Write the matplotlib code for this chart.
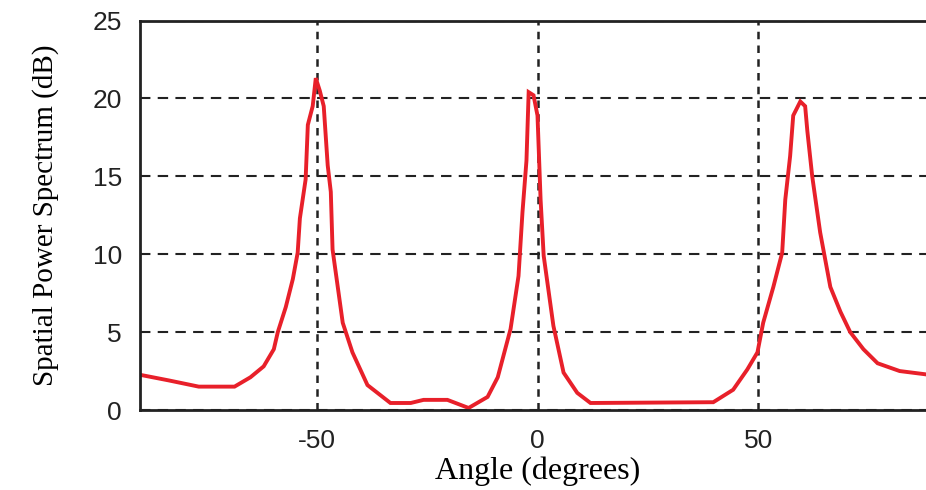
import numpy as np
import matplotlib
matplotlib.use("Agg")
import matplotlib.pyplot as plt

# spatial spectrum (angle in degrees, level in dB)
angle = [-90, -83.5, -76.7, -68.6, -65, -62, -59.7, -58.8, -57, -55.4, -54.3, -53.8,
         -52.5, -52.0, -50.9, -50.2, -49.3, -48.4, -47.5, -46.8, -46.4, -44.1, -41.9,
         -38.5, -33.3, -28.7, -25.8, -20.4, -15.6, -11.3, -9.0, -6.1, -4.3, -3.4, -2.5,
         -2.0, -0.9, 0, 0.7, 1.4, 3.6, 5.9, 9.0, 12, 39.8, 44.3, 47.5, 49.8, 51.1, 53.4,
         55.4, 56.1, 57.2, 57.9, 59.5, 60.6, 61.1, 62.2, 64.0, 66.3, 68.6, 70.8, 73.8,
         77, 82, 87.6, 90]
power_db = [2.26, 1.9, 1.5, 1.5, 2.1, 2.8, 3.9, 5.0, 6.6, 8.4, 10.1, 12.3,
            14.8, 18.3, 19.5, 21.3, 20.5, 19.5, 15.7, 14.0, 10.3, 5.6, 3.7,
            1.6, 0.45, 0.45, 0.65, 0.65, 0.13, 0.84, 2.1, 5.2, 8.6, 12.7, 16.0,
            20.4, 20.2, 18.9, 13.5, 9.9, 5.4, 2.4, 1.1, 0.45, 0.5, 1.3, 2.6, 3.7, 5.6, 7.9,
            10.1, 13.5, 16.3, 18.9, 19.8, 19.5, 17.9, 15.0, 11.4, 7.9, 6.3, 5.0, 3.9,
            3.0, 2.5, 2.3, 2.2]

xticks = [-50, 0, 50]
yticks = [0, 5, 10, 15, 20, 25]

fig = plt.figure(figsize=(9.26, 4.9), dpi=100)
ax = fig.add_axes([140/926, 1 - 410/490, 795/926, 389.5/490])

ax.plot(angle, power_db, color="#e8202a", linewidth=2.8, solid_joinstyle="miter")

ax.set_xlim(-90, 90)
ax.set_ylim(0, 25)
ax.set_xticks(xticks)
ax.set_yticks(yticks)
ax.set_xticklabels([str(t) for t in xticks])
ax.tick_params(length=0, labelsize=19)
ax.tick_params(axis="y", pad=13)
ax.tick_params(axis="x", pad=14)
for lab in ax.get_xticklabels() + ax.get_yticklabels():
    lab.set_fontfamily("Liberation Sans")
    lab.set_color("#222222")

ax.yaxis.grid(True, color="#222222", linestyle=(0, (5, 3.5)), linewidth=1.5)
ax.xaxis.grid(True, color="#222222", linestyle=(0, (3, 2.5)), linewidth=1.8)

for s in ax.spines.values():
    s.set_linewidth(2)
    s.set_color("#222222")

ax.set_xlabel("Angle (degrees)", fontfamily="Liberation Serif", fontsize=23, labelpad=2)
ax.set_ylabel("Spatial Power Spectrum (dB)", fontfamily="Liberation Serif", fontsize=21, labelpad=24)

fig.savefig("out.png", dpi=100)
